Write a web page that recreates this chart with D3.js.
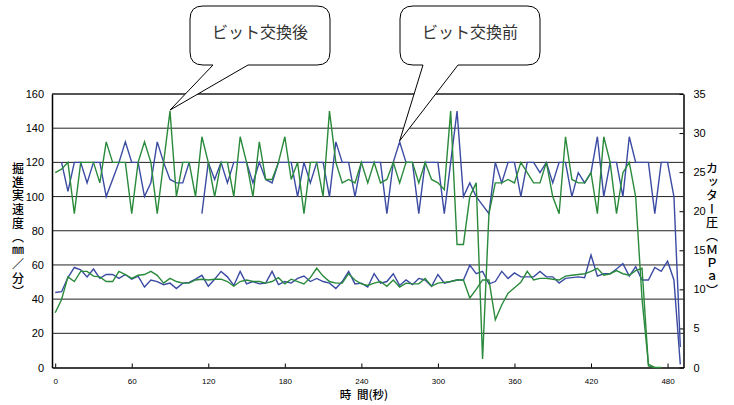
<!DOCTYPE html>
<html>
<head>
<meta charset="utf-8">
<script src="https://cdn.jsdelivr.net/npm/d3@7"></script>
<style>
  body { margin: 0; background: #fff; }
  text { font-family: "Liberation Sans", Arial, sans-serif; }
  .jp { font-family: "Noto Sans CJK JP", sans-serif; }
  .vert { writing-mode: vertical-rl; text-orientation: upright; }
</style>
</head>
<body>
<div id="chart"></div>
<script>
// time (s), one sample every 5 s
const times = [
  0, 5, 10, 15, 20, 25, 30, 35, 40, 45, 50, 55, 60, 65, 70, 75, 80, 85, 90, 95,
  100, 105, 110, 115, 120, 125, 130, 135, 140, 145, 150, 155, 160, 165, 170, 175, 180, 185, 190, 195,
  200, 205, 210, 215, 220, 225, 230, 235, 240, 245, 250, 255, 260, 265, 270, 275, 280, 285, 290, 295,
  300, 305, 310, 315, 320, 325, 330, 335, 340, 345, 350, 355, 360, 365, 370, 375, 380, 385, 390, 395,
  400, 405, 410, 415, 420, 425, 430, 435, 440, 445, 450, 455, 460, 465, 470, 475, 480, 485, 490
]

// 掘進実速度 (mm/min) - left axis
const speedBefore = [
  null, 120, 103, 120, 120, 108, 120, 120, 100, 110,
  120, 132, 120, 120, 100, 108, 132, 120, 110, 108,
  108, 120, null, 90, 120, 110, 120, 108, 120, 120,
  120, 108, 120, 110, 108, 120, 120, 120, 100, 120,
  108, 120, 120, 100, 132, 120, 120, 100, 120, 120,
  120, 120, 90, 120, 132, 120, 120, 90, 120, 120,
  120, 90, 120, 150, 100, 108, 100, 95, 90, 120,
  108, 120, 120, 100, 120, 120, 114, 120, 108, 120,
  120, 100, 114, 108, 114, 135, 100, 120, 120, 100,
  135, 120, 120, 120, 90, 120, 120, 100, 12
]
const speedAfter = [
  114, 116, 120, 90, 120, 120, 120, 108, 132, 120,
  120, 120, 90, 120, 132, 120, 90, 120, 150, 100,
  120, 120, 100, 135, 120, 100, 120, 120, 100, 135,
  120, 100, 132, 110, 110, 120, 135, 110, 120, 90,
  120, 120, 100, 150, 120, 108, 110, 108, 120, 108,
  120, 108, 110, 120, 108, 120, 120, 108, 120, 110,
  108, 104, 150, 72, 72, 100, 108, 5, 90, 108,
  108, 110, 108, 120, 114, 108, 108, 120, 100, 90,
  135, 110, 108, 108, 114, 90, 135, 120, 90, 114,
  120, 100, 40, 2, 0
]

// カッター圧 (MPa) - right axis
const pressBefore = [
  9.6, 9.7, 11.5, 12.8, 12.5, 11.6, 12.6, 11.4, 11.9, 11.9,
  11.4, 11.9, 11.3, 11.7, 10.3, 11.2, 11.0, 10.6, 10.8, 10.1,
  10.8, 10.9, 11.3, 11.8, 10.4, 11.3, 12.3, 11.6, 10.5, 12.3,
  10.7, 11.0, 10.7, 10.8, 12.3, 10.6, 11.0, 10.8, 11.4, 11.7,
  11.0, 11.4, 11.0, 10.8, 10.1, 11.0, 12.3, 10.7, 10.8, 10.3,
  12.0, 10.8, 11.0, 12.0, 10.5, 11.2, 10.6, 11.4, 11.2, 10.4,
  11.9, 10.8, 11.0, 11.2, 11.2, 13.1, 12.0, 12.3, 10.7, 11.0,
  12.3, 11.4, 12.1, 11.6, 11.6, 11.6, 12.3, 11.6, 11.6, 10.8,
  11.4, 11.5, 11.6, 11.5, 14.4, 11.7, 12.0, 12.0, 12.6, 13.3,
  11.7, 12.9, 11.2, 11.2, 12.8, 12.3, 13.6, 11.2, 0.4
]
const pressAfter = [
  7.0, 8.7, 11.6, 11.0, 12.3, 12.3, 11.7, 11.6, 11.0, 11.0,
  12.3, 11.9, 11.4, 11.8, 11.9, 12.3, 11.8, 10.8, 11.4, 11.0,
  10.8, 10.8, 11.2, 11.3, 11.2, 11.3, 11.3, 11.0, 10.4, 11.0,
  11.2, 11.0, 11.0, 10.8, 11.0, 11.5, 10.7, 11.3, 11.0, 10.7,
  11.5, 12.7, 11.7, 11.0, 10.8, 10.8, 12.0, 11.2, 10.7, 10.5,
  10.8, 11.0, 10.4, 11.2, 10.3, 10.8, 10.7, 10.7, 11.4, 10.4,
  10.8, 10.9, 11.0, 11.2, 11.2, 8.9, 10.0, 11.2, 11.2, 6.1,
  8.0, 9.5, 10.2, 10.9, 12.3, 11.2, 11.4, 11.4, 11.3, 11.2,
  11.7, 11.8, 11.9, 12.0, 12.3, 12.7, 11.8, 12.0, 12.4, 12.0,
  11.8, 12.4, 12.7, 0.2, 0, 0
]

const xTicks = [0, 60, 120, 180, 240, 300, 360, 420, 480]
const leftTicks = [0, 20, 40, 60, 80, 100, 120, 140, 160]
const rightTicks = [0, 5, 10, 15, 20, 25, 30, 35]

const leftTitle = '掘進実速度（㎜／分）'
const rightTitle = 'カッター圧（ＭＰａ）'
const xTitle = '時 間(秒)'

const blue = '#3b4ba3'
const green = '#2a8a3c'

const plot = { left: 52, right: 683.5, top: 94, bottom: 367.5 }

const svg = d3.select('#chart')
    .append('svg')
    .attr('width', 734)
    .attr('height', 405)

// scales (category axis: half a step of padding each side)
const x = d3.scaleLinear().domain([-2.5, 492.5]).range([plot.left, plot.right])
const yL = d3.scaleLinear().domain([0, 160]).range([plot.bottom, plot.top])
const yR = d3.scaleLinear().domain([0, 35]).range([plot.bottom, plot.top])

// gridlines
svg.append('g')
    .selectAll('line')
    .data(leftTicks.filter(d => d > 0 && d < 160))
    .enter().append('line')
    .attr('x1', plot.left).attr('x2', plot.right)
    .attr('y1', d => yL(d)).attr('y2', d => yL(d))
    .attr('stroke', '#222')
    .attr('stroke-width', 1)

// top border
svg.append('line')
    .attr('x1', plot.left).attr('x2', plot.right)
    .attr('y1', yL(160)).attr('y2', yL(160))
    .attr('stroke', '#555').attr('stroke-width', 2)

// left axis
const leftAxis = d3.axisLeft(yL).tickValues(leftTicks).tickSize(0).tickPadding(8)
const leftG = svg.append('g')
    .attr('transform', `translate(${plot.left},0)`)
    .call(leftAxis)
leftG.select('.domain').attr('stroke', '#000').attr('stroke-width', 1.5)
leftG.selectAll('text').attr('font-size', 11).attr('fill', '#000')
    .attr('font-family', '"Liberation Sans", Arial, sans-serif')

// right axis, ticks pointing inward
const rightAxis = d3.axisRight(yR).tickValues(rightTicks).tickSizeInner(-4).tickSizeOuter(0).tickPadding(10)
const rightG = svg.append('g')
    .attr('transform', `translate(${plot.right},0)`)
    .call(rightAxis)
rightG.select('.domain').attr('stroke', '#000').attr('stroke-width', 1.5)
rightG.selectAll('line').attr('stroke', '#000')
rightG.selectAll('text').attr('font-size', 11).attr('fill', '#000')
    .attr('font-family', '"Liberation Sans", Arial, sans-serif')

// bottom axis, ticks pointing up
const xAxis = d3.axisBottom(x).tickValues(xTicks).tickSizeInner(-4).tickSizeOuter(0).tickPadding(11)
const xG = svg.append('g')
    .attr('transform', `translate(0,${plot.bottom})`)
    .call(xAxis)
xG.select('.domain').attr('stroke', '#000').attr('stroke-width', 1.5)
xG.selectAll('line').attr('stroke', '#000')
xG.selectAll('text').attr('font-size', 8).attr('fill', '#000')
    .attr('font-family', '"Liberation Sans Narrow", "Liberation Sans", Arial, sans-serif')

// lines
const rows = arr => arr.map((v, i) => ({ t: times[i], v: v }))

const lineL = d3.line().defined(d => d.v != null).x(d => x(d.t)).y(d => yL(d.v))
const lineR = d3.line().defined(d => d.v != null).x(d => x(d.t)).y(d => yR(d.v))

const series = [
    { data: rows(pressBefore), line: lineR, color: blue },
    { data: rows(speedBefore), line: lineL, color: blue },
    { data: rows(pressAfter), line: lineR, color: green },
    { data: rows(speedAfter), line: lineL, color: green }
]

svg.append('g')
    .selectAll('path')
    .data(series)
    .enter().append('path')
    .attr('d', d => d.line(d.data))
    .attr('fill', 'none')
    .attr('stroke', d => d.color)
    .attr('stroke-width', 1.4)
    .attr('stroke-linejoin', 'miter')

// axis titles (vertical writing)
svg.append('text')
    .attr('class', 'jp vert')
    .attr('x', 18).attr('y', 231)
    .attr('text-anchor', 'middle')
    .attr('font-size', 12).attr('font-weight', 500)
    .attr('letter-spacing', 1.7)
    .text(leftTitle)

svg.append('text')
    .attr('class', 'jp vert')
    .attr('x', 712).attr('y', 230)
    .attr('text-anchor', 'middle')
    .attr('font-size', 12).attr('font-weight', 500)
    .attr('letter-spacing', 1.5)
    .text(rightTitle)

svg.append('text')
    .attr('class', 'jp')
    .attr('x', 364).attr('y', 394)
    .attr('text-anchor', 'middle').attr('dominant-baseline', 'central')
    .attr('font-size', 11.5).attr('font-weight', 500)
    .attr('word-spacing', 3)
    .text(xTitle)

// speech bubbles
const bubble = (x0, y0, x1, y1, r, bl, br, tx, ty) => {
    const p = d3.path()
    p.moveTo(x0 + r, y0)
    p.lineTo(x1 - r, y0)
    p.quadraticCurveTo(x1, y0, x1, y0 + r)
    p.lineTo(x1, y1 - r)
    p.quadraticCurveTo(x1, y1, x1 - r, y1)
    p.lineTo(br, y1)
    p.lineTo(tx, ty)
    p.lineTo(bl, y1)
    p.lineTo(x0 + r, y1)
    p.quadraticCurveTo(x0, y1, x0, y1 - r)
    p.lineTo(x0, y0 + r)
    p.quadraticCurveTo(x0, y0, x0 + r, y0)
    p.closePath()
    return p.toString()
}

const callouts = [
    { label: 'ビット交換後', box: [190, 6, 330, 65], base: [213, 248], t: 90, v: speedAfter[18] },
    { label: 'ビット交換前', box: [400, 6, 540, 65], base: [423, 458], t: 270, v: speedBefore[54] }
]

callouts.forEach(c => {
    svg.append('path')
        .attr('d', bubble(c.box[0], c.box[1], c.box[2], c.box[3], 13,
            c.base[0], c.base[1], x(c.t), yL(c.v) - 1))
        .attr('fill', '#fff')
        .attr('stroke', '#000')
        .attr('stroke-width', 1)
    svg.append('text')
        .attr('class', 'jp')
        .attr('x', (c.box[0] + c.box[2]) / 2)
        .attr('y', 31)
        .attr('text-anchor', 'middle').attr('dominant-baseline', 'central')
        .attr('font-size', 16)
        .attr('fill', '#333')
        .text(c.label)
})
</script>
</body>
</html>
